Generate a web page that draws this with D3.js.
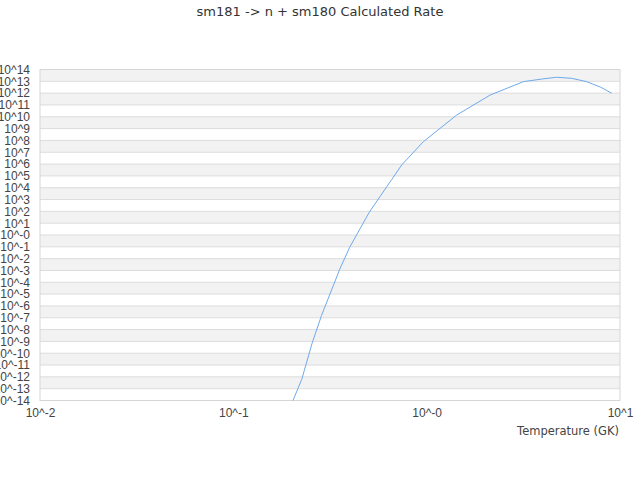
<!DOCTYPE html>
<html><head><meta charset="utf-8">
<script src="https://cdn.jsdelivr.net/npm/d3@7"></script>
<style>body{margin:0;background:#fff;}svg{display:block;font-family:"DejaVu Sans",sans-serif;}</style>
</head><body>
<svg id="c" width="640" height="480"></svg>
<script>
const title = "sm181 -> n + sm180 Calculated Rate";
const xLabel = "Temperature (GK)";
const temps = [0.2, 0.226, 0.255, 0.286, 0.356, 0.40, 0.505, 0.66, 0.743, 0.962, 1.43, 2.13, 3.16, 3.98, 4.70, 5.62, 6.73, 7.94, 9.06];
const rates = [5.0e-15, 6.3e-13, 6.3e-10, 1.6e-7, 1.4e-3, 9.3e-2, 85, 5.0e4, 8.5e5, 7.9e7, 1.4e10, 6.9e11, 9.3e12, 1.6e13, 2.2e13, 1.8e13, 9.3e12, 3.2e12, 9.8e11];
const xTickExps = [-2, -1, 0, 1];
const yTickExps = [14,13,12,11,10,9,8,7,6,5,4,3,2,1,0,-1,-2,-3,-4,-5,-6,-7,-8,-9,-10,-11,-12,-13,-14];

const svg = d3.select("#c");
const L = 40, R = 620, T = 69.5, B = 400.5;
const x = d3.scaleLog().domain([1e-2, 1e1]).range([L, R]);
const y = d3.scaleLog().domain([1e-14, 1e14]).range([B, T]);
const expLabel = e => "10^" + (e === 0 ? "-0" : e);

const g = svg.append("g");
for (let i = 0; i < yTickExps.length - 1; i++) {
  const e = yTickExps[i];
  if (i % 2 === 0) {
    g.append("rect").attr("x", L).attr("width", R - L)
      .attr("y", y(Math.pow(10, e))).attr("height", y(Math.pow(10, e - 1)) - y(Math.pow(10, e)))
      .attr("fill", "#f2f2f2");
  }
}
const yAxis = d3.axisLeft(y).tickValues(yTickExps.map(e => Math.pow(10, e)))
  .tickFormat(d => expLabel(Math.round(Math.log10(d)))).tickSize(0).tickPadding(10);
const ya = svg.append("g").attr("transform", `translate(${L},0)`).call(yAxis);
ya.select(".domain").remove();
ya.selectAll("text").attr("fill", "#444").style("font-size", "12px");
svg.append("g").selectAll("line").data(yTickExps).join("line")
  .attr("x1", L).attr("x2", R).attr("y1", e => y(Math.pow(10, e))).attr("y2", e => y(Math.pow(10, e)))
  .attr("stroke", "#dcdcdc").attr("stroke-width", 1);
svg.append("rect").attr("x", L).attr("y", T).attr("width", R - L).attr("height", B - T)
  .attr("fill", "none").attr("stroke", "#d6d6d6");

const xAxis = d3.axisBottom(x).tickValues(xTickExps.map(e => Math.pow(10, e)))
  .tickFormat(d => expLabel(Math.round(Math.log10(d)))).tickSize(0).tickPadding(8);
const xa = svg.append("g").attr("transform", `translate(0,${B})`).call(xAxis);
xa.select(".domain").remove();
xa.selectAll("text").attr("fill", "#444").style("font-size", "12px");

svg.append("clipPath").attr("id", "clip").append("rect")
  .attr("x", L).attr("y", T).attr("width", R - L).attr("height", B - T);
const line = d3.line().x((d, i) => x(temps[i])).y(d => y(d));
svg.append("path").datum(rates).attr("clip-path", "url(#clip)")
  .attr("d", line).attr("fill", "none").attr("stroke", "#6fa8ec").attr("stroke-width", 1);

svg.append("text").attr("x", 320).attr("y", 16).attr("text-anchor", "middle")
  .attr("fill", "#333").style("font-size", "13px").text(title);
svg.append("text").attr("x", 619).attr("y", 435).attr("text-anchor", "end")
  .attr("fill", "#444").style("font-size", "11.5px").text(xLabel);
</script>
</body></html>
